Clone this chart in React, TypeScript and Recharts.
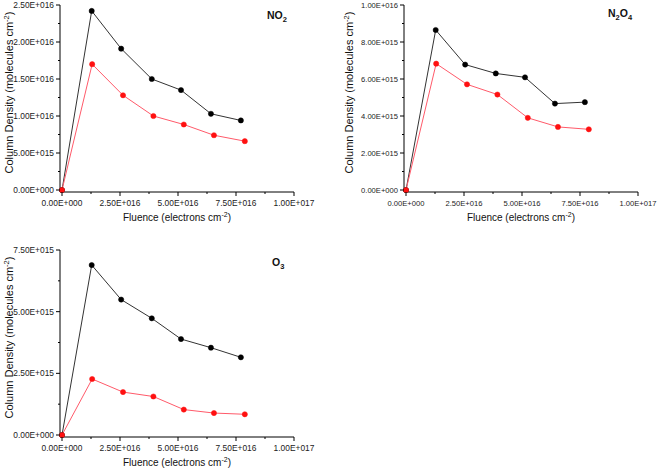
import React from 'react';
import { LineChart, Line, XAxis, YAxis, Customized } from 'recharts';

// fluence (x) for each series
const fluenceBlack = [0, 1.28e16, 2.55e16, 3.87e16, 5.13e16, 6.42e16, 7.71e16];
const fluenceRed = [0, 1.3e16, 2.63e16, 3.94e16, 5.25e16, 6.55e16, 7.88e16];

// column densities
const no2Black = [0, 2.42e16, 1.91e16, 1.5e16, 1.35e16, 1.03e16, 0.94e16];
const no2Red = [0, 1.7e16, 1.28e16, 1.0e16, 0.885e16, 0.74e16, 0.66e16];
const n2o4Black = [0, 8.65e15, 6.78e15, 6.3e15, 6.09e15, 4.67e15, 4.75e15];
const n2o4Red = [0, 6.83e15, 5.71e15, 5.16e15, 3.9e15, 3.41e15, 3.28e15];
const o3Black = [0, 6.89e15, 5.49e15, 4.73e15, 3.89e15, 3.54e15, 3.15e15];
const o3Red = [0, 2.27e15, 1.74e15, 1.56e15, 1.03e15, 0.89e15, 0.84e15];

// ticks
const fluenceTicks = [0, 2.5e16, 5e16, 7.5e16, 1e17];
const fluenceTickLabels = ['0.00E+000', '2.50E+016', '5.00E+016', '7.50E+016', '1.00E+017'];
const no2Ticks = [0, 5e15, 1e16, 1.5e16, 2e16, 2.5e16];
const no2TickLabels = ['0.00E+000', '5.00E+015', '1.00E+016', '1.50E+016', '2.00E+016', '2.50E+016'];
const n2o4Ticks = [0, 2e15, 4e15, 6e15, 8e15, 1e16];
const n2o4TickLabels = ['0.00E+000', '2.00E+015', '4.00E+015', '6.00E+015', '8.00E+015', '1.00E+016'];
const o3Ticks = [0, 2.5e15, 5e15, 7.5e15];
const o3TickLabels = ['0.00E+000', '2.50E+015', '5.00E+015', '7.50E+015'];

const FONT = 'Liberation Sans, Arial, sans-serif';

const toPoints = (xs: number[], ys: number[]) => xs.map((x, i) => ({ x, y: ys[i] }));

// major ticks plus one minor tick between each pair
const withMinor = (majors: number[]) => {
  const out: number[] = [];
  majors.forEach((v, i) => {
    out.push(v);
    if (i < majors.length - 1) out.push((v + majors[i + 1]) / 2);
  });
  return out;
};

const makeTick = (majors: number[], labels: string[], side: 'x' | 'y', fontSize: number) => (props: any) => {
  const { x, y, payload } = props;
  const idx = majors.indexOf(payload.value);
  const major = idx >= 0;
  const len = major ? 4 : 2;
  if (side === 'y') {
    return (
      <g>
        <line x1={x - len} x2={x} y1={y} y2={y} stroke="#000" />
        {major && (
          <text x={x - 6} y={y} dy="0.35em" textAnchor="end" fontSize={fontSize} fill="#222" fontFamily={FONT}>
            {labels[idx]}
          </text>
        )}
      </g>
    );
  }
  return (
    <g>
      <line x1={x} x2={x} y1={y} y2={y + len} stroke="#000" />
      {major && (
        <text x={x} y={y + 14} textAnchor="middle" fontSize={fontSize} fill="#222" fontFamily={FONT}>
          {labels[idx]}
        </text>
      )}
    </g>
  );
};

type PanelProps = {
  left: number;
  top: number;
  width: number;
  height: number;
  inset: number;
  black: number[];
  red: number[];
  yTicks: number[];
  yLabels: string[];
  title: React.ReactNode;
  titleX: number;
  titleY: number;
  tickFont: number;
  yTitleX: number;
};

const Panel: React.FC<PanelProps> = ({
  left, top, width, height, inset, black, red, yTicks, yLabels, title, titleX, titleY, tickFont, yTitleX,
}) => {
  const plotBottom = 192;
  const Labels = () => (
    <g fontFamily={FONT} fill="#111">
      <text x={titleX} y={titleY} fontSize={10.5} fontWeight="bold">
        {title}
      </text>
      <text transform={`translate(${yTitleX}, ${(5 + plotBottom) / 2 - 6}) rotate(-90)`} textAnchor="middle" fontSize={11}>
        Column Density (molecules cm
        <tspan dy={-4} fontSize={7.5}>-2</tspan>
        <tspan dy={4}>)</tspan>
      </text>
      <text x={177 + inset} y={plotBottom + 29} textAnchor="middle" fontSize={10}>
        Fluence (electrons cm
        <tspan dy={-4} fontSize={7}>-2</tspan>
        <tspan dy={4}>)</tspan>
      </text>
    </g>
  );
  return (
    <div style={{ position: 'absolute', left, top }}>
      <LineChart width={width} height={height} margin={{ top: 5, right: width - 294 - inset, bottom: 0, left: inset }}>
        <XAxis
          dataKey="x"
          type="number"
          domain={[0, 1e17]}
          ticks={withMinor(fluenceTicks)}
          interval={0}
          tick={makeTick(fluenceTicks, fluenceTickLabels, 'x', tickFont)}
          tickLine={false}
          tickSize={0}
          tickMargin={0}
          axisLine={{ stroke: '#000' }}
          padding={{ left: 2, right: 0 }}
          height={height - plotBottom}
        />
        <YAxis
          type="number"
          domain={[0, yTicks[yTicks.length - 1]]}
          ticks={withMinor(yTicks)}
          interval={0}
          tick={makeTick(yTicks, yLabels, 'y', tickFont)}
          tickLine={false}
          tickSize={0}
          tickMargin={0}
          axisLine={{ stroke: '#000' }}
          padding={{ top: 0, bottom: 2 }}
          width={60}
        />
        <Line
          data={toPoints(fluenceBlack, black)}
          dataKey="y"
          stroke="#333"
          strokeWidth={1}
          dot={{ r: 2.6, fill: '#000', stroke: '#000', strokeWidth: 0.5 }}
          isAnimationActive={false}
        />
        <Line
          data={toPoints(fluenceRed, red)}
          dataKey="y"
          stroke="#ff5a6a"
          strokeWidth={1}
          dot={{ r: 2.6, fill: '#ff1010', stroke: '#ff1010', strokeWidth: 0.5 }}
          isAnimationActive={false}
        />
        <Customized component={<Labels />} />
      </LineChart>
    </div>
  );
};

const App: React.FC = () => (
  <div style={{ position: 'absolute', left: 0, top: 0, width: 660, height: 471, overflow: 'hidden', background: '#fff' }}>
    <Panel
      left={0}
      top={0}
      width={330}
      height={230}
      inset={0}
      black={no2Black}
      red={no2Red}
      yTicks={no2Ticks}
      yLabels={no2TickLabels}
      title={
        <>
          NO<tspan dy={3} fontSize={7.5}>2</tspan>
        </>
      }
      titleX={267}
      titleY={19}
      tickFont={8.4}
      yTitleX={13}
    />
    <Panel
      left={336}
      top={0}
      width={324}
      height={230}
      inset={8}
      black={n2o4Black}
      red={n2o4Red}
      yTicks={n2o4Ticks}
      yLabels={n2o4TickLabels}
      title={
        <>
          N<tspan dy={3} fontSize={7.5}>2</tspan>
          <tspan dy={-3}>O</tspan>
          <tspan dy={3} fontSize={7.5}>4</tspan>
        </>
      }
      titleX={272}
      titleY={17}
      tickFont={7.6}
      yTitleX={17}
    />
    <Panel
      left={0}
      top={245}
      width={330}
      height={226}
      inset={0}
      black={o3Black}
      red={o3Red}
      yTicks={o3Ticks}
      yLabels={o3TickLabels}
      title={
        <>
          O<tspan dy={3} fontSize={7.5}>3</tspan>
        </>
      }
      titleX={272}
      titleY={21}
      tickFont={8.4}
      yTitleX={13}
    />
  </div>
);

export default App;
